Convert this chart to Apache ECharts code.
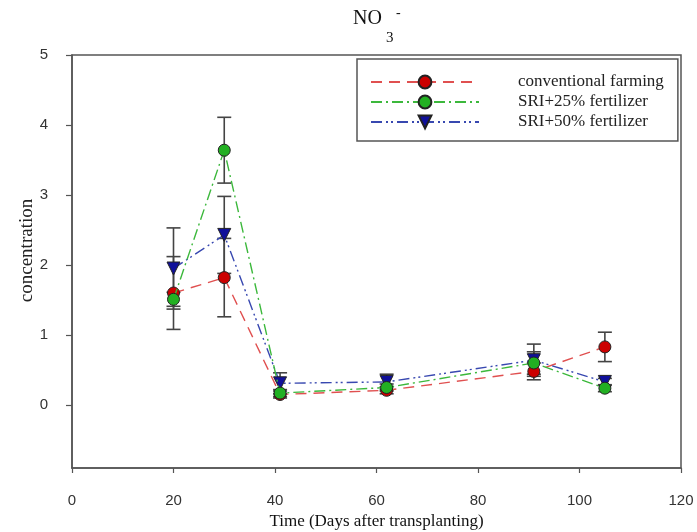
<!DOCTYPE html>
<html>
<head>
<meta charset="utf-8">
<script src="https://cdn.jsdelivr.net/npm/echarts@6/dist/echarts.min.js"></script>
<style>html,body{margin:0;padding:0;background:#fff;}#c{width:697px;height:532px;}</style>
</head>
<body>
<div id="c"></div>
<script>
const days = [20, 30, 41, 62, 91, 105];
const seriesNames = ['conventional farming', 'SRI+25% fertilizer', 'SRI+50% fertilizer'];
const conv = [1.60, 1.82, 0.15, 0.21, 0.48, 0.83];
const sri25 = [1.51, 3.64, 0.17, 0.25, 0.60, 0.24];
const sri50 = [1.95, 2.43, 0.31, 0.33, 0.64, 0.33];
const convErr = [0.52, 0.56, 0.05, 0.05, 0.12, 0.21];
const sri25Err = [0.10, 0.47, 0.05, 0.05, 0.16, 0.05];
const sri50Err = [0.58, 0.55, 0.15, 0.11, 0.23, 0.05];
const xTicks = [0, 20, 40, 60, 80, 100, 120];
const yTicks = [0, 1, 2, 3, 4, 5];

const chart = echarts.init(document.getElementById('c'), null, {renderer: 'canvas'});

function errSeries(name, vals, errs, z) {
  return {
    type: 'custom',
    name: name + ' err',
    z: z,
    encode: {x: 0, y: 1},
    data: days.map((d, i) => [d, vals[i], errs[i]]),
    renderItem: function (params, api) {
      const x = api.value(0), y = api.value(1), e = api.value(2);
      const t = api.coord([x, y + e]);
      const b = api.coord([x, y - e]);
      const hw = 7;
      const st = {stroke: '#444', lineWidth: 1.6, fill: null};
      return {
        type: 'group',
        children: [
          {type: 'line', shape: {x1: t[0], y1: t[1], x2: b[0], y2: b[1]}, style: st},
          {type: 'line', shape: {x1: t[0] - hw, y1: t[1], x2: t[0] + hw, y2: t[1]}, style: st},
          {type: 'line', shape: {x1: b[0] - hw, y1: b[1], x2: b[0] + hw, y2: b[1]}, style: st}
        ]
      };
    }
  };
}

function lineSeries(name, vals, lineColor, fill, symbol, rot, dash, z) {
  return {
    type: 'line',
    name: name,
    z: z,
    data: days.map((d, i) => [d, vals[i]]),
    symbol: symbol,
    symbolRotate: rot,
    symbolSize: symbol === 'circle' ? 12 : 13,
    showAllSymbol: true,
    lineStyle: {color: lineColor, width: 1.4, type: dash},
    itemStyle: {color: fill, borderColor: '#222', borderWidth: 1},
    emphasis: {disabled: true},
    animation: false
  };
}

const titleFont = {fontFamily: 'Liberation Serif', color: '#111', fontWeight: 'normal'};

const option = {
  animation: false,
  title: [
    {text: 'NO', left: 348, top: 4, textStyle: Object.assign({fontSize: 20, lineHeight: 20}, titleFont)},
    {text: '3', left: 381, top: 26, textStyle: Object.assign({fontSize: 15, lineHeight: 15}, titleFont)},
    {text: '-', left: 391, top: 1, textStyle: Object.assign({fontSize: 14, lineHeight: 14}, titleFont)}
  ],
  grid: {
    left: 72, right: 16, top: 55, bottom: 64,
    outerBoundsMode: 'none',
    containLabel: false,
    show: true, borderColor: '#555', borderWidth: 1.5, backgroundColor: 'transparent'
  },
  legend: {
    orient: 'vertical',
    left: 357,
    top: 59,
    padding: [13, 14, 9, 13],
    itemWidth: 108,
    itemHeight: 16,
    itemGap: 0,
    borderColor: '#555',
    borderWidth: 1.5,
    borderRadius: 0,
    data: seriesNames,
    selectedMode: false,
    textStyle: {fontFamily: 'Liberation Serif', fontSize: 17, color: '#222', lineHeight: 20, padding: [0, 0, 0, 34]}
  },
  xAxis: {
    type: 'value',
    min: 0, max: 120, interval: 20,
    name: 'Time (Days after transplanting)',
    nameLocation: 'middle',
    nameGap: 45,
    nameMoveOverlap: false,
    nameTextStyle: {fontFamily: 'Liberation Serif', fontSize: 17, color: '#111'},
    axisLine: {show: true, onZero: false, lineStyle: {color: '#555', width: 1.5}},
    axisTick: {show: true, length: 5, lineStyle: {color: '#555', width: 1.2}},
    axisLabel: {fontFamily: 'Liberation Sans', fontSize: 15, color: '#333', margin: 25,
      customValues: xTicks},
    splitLine: {show: false}
  },
  yAxis: {
    type: 'value',
    min: -0.9, max: 5,
    name: 'concentration',
    nameLocation: 'middle',
    nameGap: 35,
    nameMoveOverlap: false,
    nameRotate: 90,
    nameTextStyle: {fontFamily: 'Liberation Serif', fontSize: 19, color: '#222', padding: [0, 0, 0, 22]},
    axisLine: {show: true, onZero: false, lineStyle: {color: '#555', width: 1.5}},
    axisTick: {show: true, length: 6, lineStyle: {color: '#555', width: 1.2}, customValues: yTicks},
    axisLabel: {fontFamily: 'Liberation Sans', fontSize: 15, color: '#333', margin: 24, customValues: yTicks},
    splitLine: {show: false}
  },
  series: [
    errSeries(seriesNames[0], conv, convErr, 1),
    errSeries(seriesNames[1], sri25, sri25Err, 1),
    errSeries(seriesNames[2], sri50, sri50Err, 1),
    lineSeries(seriesNames[0], conv, '#e05050', '#cc0000', 'circle', 0, [11, 7], 3),
    lineSeries(seriesNames[1], sri25, '#3cb83c', '#22b022', 'circle', 0, [11, 4, 2, 4], 5),
    lineSeries(seriesNames[2], sri50, '#3848b0', '#10109a', 'triangle', 180, [11, 4, 2, 3, 2, 4], 4)
  ]
};
chart.setOption(option);
</script>
</body>
</html>
